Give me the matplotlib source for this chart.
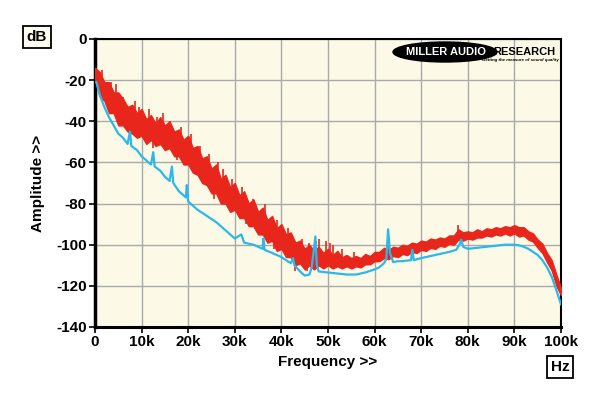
import numpy as np
import matplotlib
matplotlib.use("Agg")
import matplotlib.pyplot as plt
from matplotlib.patches import Ellipse

plt.rcParams['font.family'] = ['Liberation Sans', 'DejaVu Sans']

# ---- data (frequency in kHz, amplitude in dB) ----
red_f = list(range(0, 101))
red_hi = [-14, -16, -21, -21, -26, -26, -29, -33, -32, -36,
          -34, -39, -37, -41, -38, -42, -40, -45, -44, -49,
          -47, -53, -52, -58, -57, -63, -61, -68, -66, -72,
          -70, -76, -74, -80, -78, -84, -82, -88, -86, -92,
          -90, -95, -94, -99, -98, -102, -100, -103, -101, -104,
          -102, -105, -103, -106, -105, -106.5, -105.5, -106.5, -104.5, -105.5,
          -103.5, -103.5, -101.5, -102.5, -101, -101.5, -100, -100.5, -99, -99.5,
          -98, -98.5, -97, -97.5, -96.5, -97, -95.5, -95.5, -92.5, -94,
          -93.5, -94, -92.5, -93.5, -92, -92.5, -91.5, -92, -91, -91.5,
          -90.5, -91.5, -91.5, -93.5, -94.5, -97.5, -99.5, -104, -107.5, -114.5,
          -121]
red_lo = [-20, -28, -30, -36, -36, -42, -42, -45, -46, -48,
          -47, -51, -49, -52, -51, -54, -53, -57, -57, -61,
          -61, -65, -66, -70, -71, -75, -75, -80, -80, -84,
          -83, -87, -87, -91, -91, -95, -95, -99, -98, -103,
          -102, -106, -106, -110, -109, -112, -110, -112, -110, -111.5,
          -110, -111.5, -110.5, -111.5, -110.5, -111.5, -110.5, -111, -109.5, -109.5,
          -108, -108, -106.5, -107, -105.5, -106, -104.5, -105, -103.5, -104,
          -102.5, -103, -101.5, -102, -100.5, -101, -99.5, -100, -97.5, -98,
          -97, -97.5, -96.5, -96.5, -95.5, -96, -95, -95.5, -94.5, -95.5,
          -94.5, -96, -95.5, -97.5, -98.5, -101.5, -104, -108.5, -112.5, -120,
          -124.5]
red_spike_f = [1.5, 3.5, 4.5, 6.1, 8.5, 9.5, 11.5, 12.5, 13.2, 14.5, 16.0,
               17.5, 18.5, 20.5, 22.5, 24.5, 25.5, 26.5, 27.5, 29.5, 31.5,
               32.5, 34.0, 36.5, 38.5, 39.0, 41.5, 43.0, 44.5, 45.5, 46.0,
               47.5, 48.0, 49.5, 50.5, 51.0, 53.0, 55.5, 62.9, 78.0]
red_spike_db = [-15, -21, -22, -28, -30, -33, -34, -53, -38, -36, -40,
                -59, -43, -46, -52, -56, -78, -60, -63, -68, -72,
                -90, -78, -80, -102, -88, -92, -113, -97, -113, -99,
                -98, -97, -98, -99, -100, -102, -103.5, -92.5, -90.5]

blue_f = [0.3, 1, 2, 3, 4, 5, 6, 7, 7.5, 7.8, 9, 10, 11, 12, 12.5, 12.8, 14,
          15, 16, 16.5, 16.8, 18, 19.5, 19.7, 20, 22, 24, 26, 28, 30, 31.4,
          32, 34, 36, 36.1, 36.4, 38, 40, 42, 42.5, 42.8, 44, 45, 46, 46.5,
          47.3, 47.6, 48, 50, 52, 54, 56, 58, 60, 61, 62, 62.5, 62.9, 63.3,
          64, 65, 66, 67.8, 68.1, 68.4, 70, 72, 74, 76, 77.5, 78.2, 78.6, 79,
          80, 82, 84, 86, 88, 90, 91, 92, 93, 94, 95, 96, 97, 98, 99, 100]
blue_db = [-21, -27, -33, -38, -42, -46, -48, -51, -45, -52, -54, -57, -59,
           -61, -55, -62, -64, -67, -69, -62, -70, -74, -77, -71, -79, -83,
           -86, -89, -93, -97, -95, -99, -100, -102, -97, -102.5, -104, -106,
           -109, -106.5, -110, -113, -115, -114.5, -111, -96, -110, -113,
           -113.5, -114, -114.5, -114.5, -113.5, -112, -111, -109, -107,
           -92.5, -104, -108.5, -108, -108, -107.5, -102.5, -107.5, -106.5,
           -105.5, -104.5, -103.5, -102.5, -100, -97.5, -101, -102, -101.5,
           -101, -100.5, -100, -100, -100.3, -101, -102, -103.5, -105,
           -107.5, -111, -115.5, -122, -129]

x_ticks = [0, 10, 20, 30, 40, 50, 60, 70, 80, 90, 100]
x_tick_labels = ['0', '10k', '20k', '30k', '40k', '50k', '60k', '70k', '80k', '90k', '100k']
y_ticks = [0, -20, -40, -60, -80, -100, -120, -140]

RED = '#E8261C'
BLUE = '#2BB8EA'

fig = plt.figure(figsize=(6.0, 3.96), dpi=100, facecolor='white')
ax = fig.add_axes([95/600, 1-327/396, (561-95)/600, (327-39)/396])
ax.set_facecolor('#FCF9E7')

ax.set_xlim(0, 100)
ax.set_ylim(-140, 0)
ax.set_xticks(x_ticks)
ax.set_xticklabels(x_tick_labels)
ax.set_yticks(y_ticks)
ax.set_yticklabels([str(v) for v in y_ticks])
ax.grid(True, color='#A9A9A9', linewidth=1.0)
ax.set_axisbelow(True)

for lab in ax.get_xticklabels() + ax.get_yticklabels():
    lab.set_fontweight('bold')
    lab.set_fontsize(11)
ax.tick_params(axis='both', direction='out', length=4, width=1.2, color='black', pad=2)

for s in ['top', 'right']:
    ax.spines[s].set_linewidth(1.5)
ax.spines['left'].set_linewidth(2.5)
ax.spines['bottom'].set_linewidth(2.2)

# red trace (noisy band)
ax.fill_between(red_f, red_lo, red_hi, color=RED, linewidth=1.0, edgecolor=RED, zorder=3)
red_mid = [(h + l) / 2 for h, l in zip(red_hi, red_lo)]
spike_base = [red_mid[int(round(f))] for f in red_spike_f]
ax.vlines(red_spike_f, spike_base, red_spike_db, color=RED, linewidth=1.2, zorder=3)

# blue trace
ax.plot(blue_f, blue_db, color=BLUE, linewidth=1.6, zorder=4)

ax.set_xlabel('Frequency >>', fontsize=11, fontweight='bold', labelpad=4)
ax.set_ylabel('Amplitude >>', fontsize=11, fontweight='bold', labelpad=8)

# unit boxes
fig.text(37/600, 1-37/396, 'dB', ha='center', va='center', fontsize=11, fontweight='bold',
         bbox=dict(boxstyle='square,pad=0.25', facecolor='#FDFCF2', edgecolor='black', linewidth=1.3))
fig.text(560/600, 1-367/396, 'Hz', ha='center', va='center', fontsize=11, fontweight='bold',
         bbox=dict(boxstyle='square,pad=0.25', facecolor='white', edgecolor='black', linewidth=1.3))

# logo
ell = Ellipse(((445-95)/466, 1-(52-39)/288), 104/466, 20/288, transform=ax.transAxes,
              facecolor='black', edgecolor='black', zorder=6)
ax.add_patch(ell)
ax.text((446-95)/466, 1-(52-39)/288, 'MILLER AUDIO', transform=ax.transAxes, ha='center',
        va='center', color='white', fontsize=8, fontweight='bold', zorder=7)
ax.text((493-95)/466, 1-(52-39)/288, 'RESEARCH', transform=ax.transAxes, ha='left',
        va='center', color='black', fontsize=8, fontweight='bold', zorder=7)
ax.text((559-95)/466, 1-(60-39)/288, 'Getting the measure of sound quality', transform=ax.transAxes,
        ha='right', va='center', color='black', fontsize=3.2, fontweight='bold', style='italic', zorder=7)

fig.savefig('out.png', dpi=100, facecolor='white')
